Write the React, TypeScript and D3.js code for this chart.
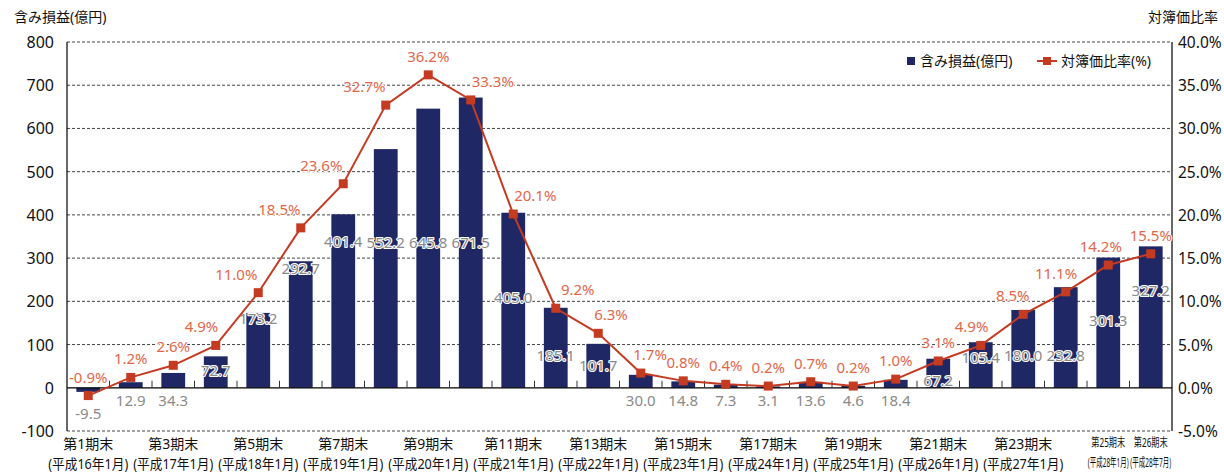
import React from 'react';
import * as d3 from 'd3';

// data
const periods = [
  '第1期末', '第2期末', '第3期末', '第4期末', '第5期末', '第6期末', '第7期末',
  '第8期末', '第9期末', '第10期末', '第11期末', '第12期末', '第13期末', '第14期末',
  '第15期末', '第16期末', '第17期末', '第18期末', '第19期末', '第20期末', '第21期末',
  '第22期末', '第23期末', '第24期末', '第25期末', '第26期末',
];
const periodDates = [
  '(平成16年1月)', '', '(平成17年1月)', '', '(平成18年1月)', '', '(平成19年1月)', '',
  '(平成20年1月)', '', '(平成21年1月)', '', '(平成22年1月)', '', '(平成23年1月)', '',
  '(平成24年1月)', '', '(平成25年1月)', '', '(平成26年1月)', '', '(平成27年1月)', '',
  '(平成28年1月)', '(平成28年7月)',
];
const unrealizedGain = [
  -9.5, 12.9, 34.3, 72.7, 173.2, 292.7, 401.4, 552.2, 645.8, 671.5, 405.0, 185.1, 101.7,
  30.0, 14.8, 7.3, 3.1, 13.6, 4.6, 18.4, 67.2, 105.4, 180.0, 232.8, 301.3, 327.2,
];
const bookRatio = [
  -0.9, 1.2, 2.6, 4.9, 11.0, 18.5, 23.6, 32.7, 36.2, 33.3, 20.1, 9.2, 6.3,
  1.7, 0.8, 0.4, 0.2, 0.7, 0.2, 1.0, 3.1, 4.9, 8.5, 11.1, 14.2, 15.5,
];
const leftTicks = [-100, 0, 100, 200, 300, 400, 500, 600, 700, 800];
const rightTicks = [-5, 0, 5, 10, 15, 20, 25, 30, 35, 40];

// where the bar labels were dragged to in the original (left-axis units)
const barLabelAt = [
  -58, -28, -28, 42, 162, 277, 340, 338, 338, 338, 210, 76, 53,
  -28, -28, -28, -28, -28, -28, -28, 18, 72, 76, 76, 157, 227,
];

const W = 1224;
const H = 472;
const margin = { left: 67, right: 52, top: 42, bottom: 41 };
const font = '"Noto Sans", "Noto Sans CJK JP", sans-serif';
const navy = '#1f2864';
const red = '#c43b22';
const redText = '#e2674a';

const App: React.FC = () => {
  const x = d3
    .scaleBand<number>()
    .domain(periods.map((_, i) => i))
    .range([margin.left, W - margin.right])
    .paddingInner(0.44)
    .paddingOuter(0.22);
  const yL = d3.scaleLinear().domain([-100, 800]).range([H - margin.bottom, margin.top]);
  const yR = d3.scaleLinear().domain([-5, 40]).range([H - margin.bottom, margin.top]);
  const cx = (i: number) => (x(i) ?? 0) + x.bandwidth() / 2;
  const step = x.step();
  const x0 = margin.left;
  const x1 = W - margin.right;

  const line = d3
    .line<number>()
    .x((_, i) => cx(i))
    .y(d => yR(d));

  const fmtPct = (v: number) => `${v.toFixed(1)}%`;

  return (
    <svg
      width={W}
      height={H}
      style={{ position: 'absolute', left: 0, top: 0, background: '#fff' }}
      fontFamily={font}
    >
      {/* grid */}
      {leftTicks
        .filter(t => t !== 0)
        .map(t => (
          <line
            key={t}
            x1={x0}
            x2={x1}
            y1={yL(t)}
            y2={yL(t)}
            stroke="#444"
            strokeWidth={1}
            strokeDasharray="3,2"
          />
        ))}

      {/* bars */}
      {unrealizedGain.map((v, i) => (
        <rect
          key={i}
          x={x(i)}
          width={x.bandwidth()}
          y={Math.min(yL(v), yL(0))}
          height={Math.abs(yL(v) - yL(0))}
          fill={navy}
        />
      ))}

      {/* zero line and category ticks */}
      <line x1={x0} x2={x1} y1={yL(0)} y2={yL(0)} stroke="#000" strokeWidth={1.2} />
      {d3.range(1, periods.length).map(i => (
        <line
          key={i}
          x1={x0 + step * i}
          x2={x0 + step * i}
          y1={yL(0)}
          y2={yL(0) - 7}
          stroke="#333"
          strokeWidth={1}
        />
      ))}

      {/* axes */}
      <line x1={x0} x2={x0} y1={yL(800)} y2={yL(-100)} stroke="#000" strokeWidth={1.2} />
      <line x1={x1} x2={x1} y1={yL(800)} y2={yL(-100)} stroke="#000" strokeWidth={1.2} />
      {leftTicks.map(t => (
        <text
          key={t}
          x={x0 - 13}
          y={yL(t)}
          textAnchor="end"
          dominantBaseline="central"
          fontSize={16}
          fill="#111"
        >
          {t}
        </text>
      ))}
      {rightTicks.map(t => (
        <text
          key={t}
          x={x1 + 6}
          y={yR(t)}
          textAnchor="start"
          dominantBaseline="central"
          fontSize={15.5}
          fill="#111"
        >
          {fmtPct(t)}
        </text>
      ))}
      <text x={14} y={22} fontSize={14} fill="#111">
        含み損益(億円)
      </text>
      <text x={1218} y={22} fontSize={14} fill="#111" textAnchor="end">
        対簿価比率
      </text>

      {/* x labels; the last two are squeezed as in the original */}
      {periods.map((p, i) => {
        if (i < 24 && i % 2 === 1) return null;
        if (i >= 24) {
          return (
            <g key={i}>
              <text
                transform={`translate(${cx(i)},447) scale(0.68,1)`}
                fontSize={12}
                fill="#111"
                textAnchor="middle"
              >
                {p}
              </text>
              <text
                transform={`translate(${cx(i)},467) scale(0.54,1)`}
                fontSize={12}
                fill="#111"
                textAnchor="middle"
              >
                {periodDates[i]}
              </text>
            </g>
          );
        }
        return (
          <g key={i}>
            <text x={cx(i)} y={449} fontSize={14} fill="#111" textAnchor="middle">
              {p}
            </text>
            <text
              x={cx(i)}
              y={469}
              fontSize={14}
              fill="#111"
              textAnchor="middle"
              textLength={80}
              lengthAdjust="spacingAndGlyphs"
            >
              {periodDates[i]}
            </text>
          </g>
        );
      })}

      {/* bar value labels */}
      {unrealizedGain.map((v, i) => (
        <text
          key={i}
          x={cx(i)}
          y={yL(barLabelAt[i])}
          textAnchor="middle"
          dominantBaseline="central"
          fontSize={15}
          fill="#8a8a8a"
          stroke="#fff"
          strokeWidth={2.2}
          strokeLinejoin="round"
          paintOrder="stroke"
        >
          {v.toFixed(1)}
        </text>
      ))}

      {/* ratio line */}
      <path d={line(bookRatio) ?? ''} fill="none" stroke={red} strokeWidth={2} />
      {bookRatio.map((v, i) => (
        <rect key={i} x={cx(i) - 4.5} y={yR(v) - 4.5} width={9} height={9} fill={red} />
      ))}
      {bookRatio.map((v, i) => {
        const prev = bookRatio[Math.max(0, i - 1)];
        const next = bookRatio[Math.min(bookRatio.length - 1, i + 1)];
        const slope = next - prev;
        const dx = Math.abs(slope) < 4 ? 0 : -Math.max(-22, Math.min(22, slope * 1.7));
        return (
          <text
            key={i}
            x={cx(i) + dx}
            y={yR(v) - 13}
            textAnchor="middle"
            fontSize={15}
            fill={redText}
            stroke="#fff"
            strokeWidth={2}
            strokeLinejoin="round"
            paintOrder="stroke"
          >
            {fmtPct(v)}
          </text>
        );
      })}

      {/* legend */}
      <rect x={907} y={57} width={8} height={8} fill={navy} />
      <text x={920} y={66} fontSize={14} fill="#111">
        含み損益(億円)
      </text>
      <line x1={1037} x2={1057} y1={61} y2={61} stroke={red} strokeWidth={2} />
      <rect x={1043} y={57} width={8} height={8} fill={red} />
      <text x={1061} y={66} fontSize={14} fill="#111">
        対簿価比率(%)
      </text>
    </svg>
  );
};

export default App;
